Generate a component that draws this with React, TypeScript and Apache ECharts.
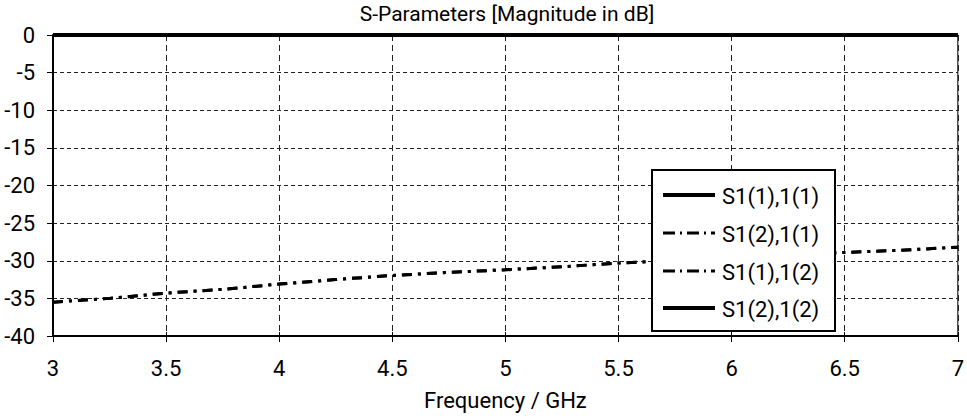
import React, { useEffect, useRef } from "react";
import * as echarts from "echarts";

const FONT = "Roboto, 'DejaVu Sans', sans-serif";

const titleText = "S-Parameters [Magnitude in dB]";
const xAxisName = "Frequency / GHz";
const seriesNames = ["S1(1),1(1)", "S1(2),1(1)", "S1(1),1(2)", "S1(2),1(2)"];

const freq = [3, 3.25, 3.5, 3.75, 4, 4.25, 4.5, 4.75, 5, 5.25, 5.5, 5.75, 6, 6.25, 6.5, 6.75, 7];
const s11 = [0, 0, 0, 0, 0, 0, 0, 0, 0, 0, 0, 0, 0, 0, 0, 0, 0];
const s21 = [-35.5, -35.0, -34.3, -33.8, -33.1, -32.5, -31.95, -31.55, -31.2, -30.8, -30.3, -29.95, -29.6, -29.25, -28.9, -28.6, -28.2];
const s12 = [-35.5, -35.0, -34.3, -33.8, -33.1, -32.5, -31.95, -31.55, -31.2, -30.8, -30.3, -29.95, -29.6, -29.25, -28.9, -28.6, -28.2];
const s22 = [0, 0, 0, 0, 0, 0, 0, 0, 0, 0, 0, 0, 0, 0, 0, 0, 0];

const seriesValues = [s11, s21, s12, s22];
const dashed = [false, true, true, false];
const DASH = [10, 6, 3, 6];

export default function App() {
  const ref = useRef<HTMLDivElement>(null);
  useEffect(() => {
    document.body.style.margin = "0";
    const chart = echarts.init(ref.current!, undefined, { renderer: "svg" });
    const series = seriesNames.map((name, i) => ({
      name,
      type: "line",
      xAxisIndex: 0,
      data: freq.map((f, j) => [f, seriesValues[i][j]]),
      showSymbol: false,
      clip: false,
      z: dashed[i] ? 3 : 4,
      lineStyle: {
        color: "#000",
        width: dashed[i] ? 3 : 4,
        type: dashed[i] ? DASH : "solid",
      },
    }));

    const lx = 652, ly = 170, lw = 183, lh = 161;
    const rowY = [195, 233, 271, 308];
    const legendEls: any[] = [
      {
        type: "rect",
        shape: { x: lx, y: ly, width: lw, height: lh },
        style: { fill: "#fff", stroke: "#000", lineWidth: 2 },
        z: 10,
      },
      {
        type: "text",
        x: 507,
        y: 3,
        style: {
          text: titleText,
          fill: "#000",
          font: `21px ${FONT}`,
          align: "center",
          verticalAlign: "top",
        },
        z: 11,
      },
    ];
    seriesNames.forEach((name, i) => {
      legendEls.push({
        type: "line",
        shape: { x1: 663, y1: rowY[i], x2: 715, y2: rowY[i] },
        style: {
          stroke: "#000",
          lineWidth: dashed[i] ? 3 : 4,
          lineDash: dashed[i] ? [12, 5, 2, 5] : null,
        },
        z: 11,
      });
      legendEls.push({
        type: "text",
        x: 722,
        y: rowY[i] + 1,
        style: {
          text: name,
          fill: "#000",
          font: `22px ${FONT}`,
          verticalAlign: "middle",
          align: "left",
        },
        z: 11,
      });
    });

    const baseX = {
      type: "value",
      min: 3,
      max: 7,
      interval: 0.5,
      position: "bottom",
    };

    chart.setOption({
      animation: false,
      backgroundColor: "#fff",
      grid: {
        left: 53,
        right: 5,
        top: 35,
        bottom: 83,
        show: true,
        borderColor: "#000",
        borderWidth: 1,
        backgroundColor: "transparent",
      },
      xAxis: [
        {
          ...baseX,
          name: xAxisName,
          nameLocation: "middle",
          nameGap: 53,
          nameTextStyle: { fontFamily: FONT, fontSize: 22, color: "#000" },
          axisLine: { show: true, onZero: false, lineStyle: { color: "#000", width: 2 } },
          axisTick: { show: true, length: 6, lineStyle: { color: "#000", width: 1 } },
          axisLabel: { margin: 21, fontFamily: FONT, fontSize: 22, color: "#000" },
          splitLine: { show: true, lineStyle: { color: "#222", width: 1, type: [6, 4] } },
        },
        {
          ...baseX,
          axisLine: { show: false, onZero: false },
          axisTick: { show: true, inside: true, length: 4, lineStyle: { color: "#000", width: 1 } },
          axisLabel: { show: false },
          splitLine: { show: false },
        },
      ],
      yAxis: {
        type: "value",
        min: -40,
        max: 0,
        interval: 5,
        axisLine: { show: true, onZero: false, lineStyle: { color: "#000", width: 2 } },
        axisTick: { show: true, length: 6, lineStyle: { color: "#000", width: 1 } },
        axisLabel: { margin: 18, fontFamily: FONT, fontSize: 22, color: "#000" },
        splitLine: { show: true, lineStyle: { color: "#222", width: 1, type: [4, 3] } },
      },
      series,
      graphic: legendEls,
    });
    return () => chart.dispose();
  }, []);
  return <div ref={ref} style={{ width: 967, height: 419 }} />;
}
